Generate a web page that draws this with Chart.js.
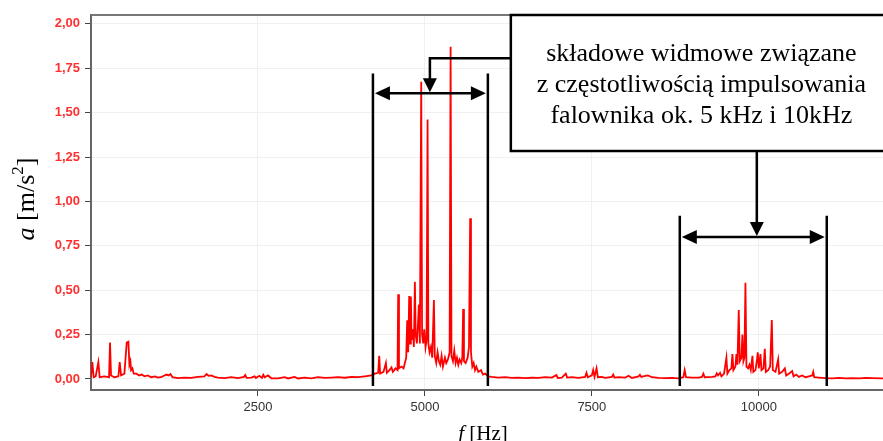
<!DOCTYPE html>
<html>
<head>
<meta charset="utf-8">
<script src="https://cdn.jsdelivr.net/npm/chart.js@4.4.0/dist/chart.umd.min.js"></script>
<style>
  html, body { margin: 0; padding: 0; background: #fff; }
  #wrap { width: 883px; height: 441px; }
</style>
</head>
<body>
<div id="wrap"><canvas id="spectrum" width="883" height="441"></canvas></div>
<script>
// spectrum, split in bands (Hz / m/s^2)
const lowFreq = [0,20,40,70,110,130,200,270,285,300,350,410,430,450,500,535,560,575,590,600,620,640,680,720,760,800,850,900,960,1000,1060,1100,1130,1160,1190,1220,1300,1400,1500,1600,1700,1730,1760,1800,1850,1900,2000,2100,2200,2290,2310,2330,2400,2450,2470,2520,2560,2580,2600,2650,2700,2800,2900,2950,3050,3100,3200,3300,3400,3500,3600,3700,3800,3900,4000,4100,4200];
const lowAcc  = [0.01,0.095,0.01,0.015,0.095,0.01,0.015,0.01,0.205,0.02,0.01,0.015,0.095,0.02,0.03,0.205,0.21,0.08,0.1,0.05,0.06,0.03,0.03,0.02,0.025,0.015,0.02,0.01,0.015,0.008,0.012,0.02,0.025,0.02,0.028,0.01,0.005,0.008,0.006,0.012,0.015,0.028,0.018,0.02,0.012,0.008,0.005,0.01,0.005,0.012,0.022,0.006,0.008,0.015,0.005,0.018,0.006,0.024,0.01,0.02,0.004,0.003,0.01,0.003,0.012,0.003,0.008,0.004,0.01,0.006,0.008,0.01,0.007,0.012,0.01,0.015,0.02];

const band5Freq = [4250,4300,4316,4330,4380,4416,4430,4470,4500,4520,4560,4590,4600,4612,4650,4680,4700,4720,4735,4750,4765,4778,4790,4800,4820,4835,4850,4862,4880,4895,4910,4925,4945,4958,4975,4990,5010,5025,5040,5052,5070,5090,5110,5135,5148,5170,5190,5210,5230,5250,5270,5300,5320,5345,5370,5385,5398,5420,5440,5460,5480,5500,5520,5545,5560,5573,5585,5610,5640,5660,5678,5690,5710,5730,5750,5770,5800,5840,5870,5900,5950];
const band5Acc  = [0.03,0.035,0.13,0.03,0.04,0.09,0.035,0.05,0.065,0.04,0.06,0.05,0.477,0.06,0.07,0.06,0.09,0.12,0.33,0.15,0.467,0.2,0.465,0.22,0.28,0.18,0.548,0.25,0.2,0.3,0.42,0.2,1.674,0.25,0.2,0.28,0.18,0.22,1.462,0.2,0.15,0.18,0.12,0.445,0.13,0.09,0.15,0.1,0.08,0.13,0.07,0.12,0.09,0.11,0.15,1.871,0.13,0.1,0.16,0.09,0.12,0.08,0.11,0.09,0.12,0.394,0.1,0.09,0.12,0.18,0.905,0.15,0.07,0.09,0.05,0.07,0.04,0.05,0.025,0.03,0.015];

const midFreq = [6000,6100,6200,6300,6400,6500,6600,6700,6800,6900,6970,6990,7050,7110,7130,7200,7300,7400,7420,7440,7500,7520,7540,7570,7590,7650,7700,7800,7820,7840,7900,8000,8050,8100,8200,8220,8240,8300,8340,8400,8500,8600,8700,8800];
const midAcc  = [0.012,0.008,0.01,0.006,0.008,0.005,0.007,0.006,0.01,0.008,0.022,0.006,0.008,0.03,0.008,0.01,0.006,0.012,0.035,0.01,0.02,0.05,0.012,0.06,0.01,0.012,0.006,0.012,0.025,0.008,0.01,0.008,0.018,0.006,0.015,0.024,0.012,0.018,0.02,0.01,0.006,0.005,0.006,0.004];

const band10Freq = [8870,8890,8910,9000,9100,9150,9170,9190,9300,9350,9370,9390,9420,9440,9480,9515,9530,9560,9590,9605,9620,9650,9665,9680,9700,9715,9740,9755,9770,9785,9800,9815,9840,9860,9880,9905,9918,9950,9970,9985,10000,10025,10040,10070,10090,10105,10140,10170,10195,10210,10250,10290,10305,10350,10390,10410,10450,10500,10520,10560,10600,10650,10700,10750,10800,10815,10830,10900,11000,11100,11200,11300,11400,11500,11600,11700,11860];
const band10Acc  = [0.01,0.05,0.01,0.008,0.008,0.012,0.03,0.01,0.012,0.015,0.032,0.02,0.035,0.015,0.03,0.12,0.03,0.05,0.06,0.14,0.05,0.07,0.14,0.08,0.389,0.1,0.12,0.25,0.1,0.12,0.542,0.07,0.06,0.08,0.05,0.13,0.04,0.05,0.1,0.15,0.06,0.14,0.05,0.06,0.17,0.04,0.05,0.07,0.332,0.05,0.04,0.11,0.03,0.04,0.06,0.02,0.03,0.045,0.015,0.025,0.012,0.02,0.01,0.015,0.02,0.04,0.01,0.008,0.005,0.004,0.006,0.004,0.005,0.004,0.006,0.005,0.004];

const xTicks = [2500, 5000, 7500, 10000];
const xTickLabels = ['2500', '5000', '7500', '10000'];
const yTicks = [0, 0.25, 0.5, 0.75, 1, 1.25, 1.5, 1.75, 2];
const yTickLabels = ['0,00','0,25','0,50','0,75','1,00','1,25','1,50','1,75','2,00'];

const noteLines = ['składowe widmowe związane', 'z częstotliwością impulsowania', 'falownika ok. 5 kHz i 10kHz'];

const freqHz = [...lowFreq, ...band5Freq, ...midFreq, ...band10Freq];
const accel = [...lowAcc, ...band5Acc, ...midAcc, ...band10Acc];
const points = freqHz.map((f,i)=>({x:f, y:accel[i]}));

const arrowHead=(ctx,tx,ty,dx,dy,len,hw)=>{
    ctx.beginPath();
    ctx.moveTo(tx,ty);
    ctx.lineTo(tx-dx*len-dy*hw, ty-dy*len+dx*hw);
    ctx.lineTo(tx-dx*len+dy*hw, ty-dy*len-dx*hw);
    ctx.closePath();
    ctx.fill();
}

const band=(ctx,x,y,b)=>{
    const l=x.getPixelForValue(b.from), r=x.getPixelForValue(b.to);
    const ay=y.getPixelForValue(b.arrowY);
    ctx.beginPath();
    ctx.moveTo(l,y.getPixelForValue(b.top)); ctx.lineTo(l,y.getPixelForValue(b.bottom));
    ctx.moveTo(r,y.getPixelForValue(b.top)); ctx.lineTo(r,y.getPixelForValue(b.bottom));
    ctx.moveTo(l+10,ay); ctx.lineTo(r-10,ay);
    ctx.stroke();
    arrowHead(ctx,l+2,ay,-1,0,15,7);
    arrowHead(ctx,r-2,ay,1,0,15,7);
}

const overlay = {
    id: 'overlay',
    afterDraw(chart){
        const {ctx, chartArea:a, scales:{x,y}} = chart;
        ctx.save();
        // top frame line
        ctx.strokeStyle='#777'; ctx.lineWidth=2;
        ctx.beginPath(); ctx.moveTo(a.left,a.top); ctx.lineTo(a.right,a.top); ctx.stroke();

        ctx.strokeStyle='#000'; ctx.fillStyle='#000'; ctx.lineWidth=2.5;
        band(ctx,x,y,{from:4222,to:5943,arrowY:1.61,top:1.72,bottom:-0.04});
        band(ctx,x,y,{from:8817,to:11018,arrowY:0.80,top:0.92,bottom:-0.04});

        // note box
        const bl=x.getPixelForValue(6287), bb=y.getPixelForValue(1.284);
        ctx.fillStyle='#fff';
        ctx.fillRect(bl,a.top,a.right-bl+5,bb-a.top);
        ctx.strokeRect(bl,a.top,a.right-bl+5,bb-a.top);

        // connectors
        ctx.fillStyle='#000';
        const c1x=x.getPixelForValue(5075), c1y=y.getPixelForValue(1.807);
        const ay1=y.getPixelForValue(1.61);
        ctx.beginPath(); ctx.moveTo(bl,c1y); ctx.lineTo(c1x,c1y); ctx.lineTo(c1x,ay1-10); ctx.stroke();
        arrowHead(ctx,c1x,ay1-1,0,1,14,7);
        const c2x=x.getPixelForValue(9970), ay2=y.getPixelForValue(0.80);
        ctx.beginPath(); ctx.moveTo(c2x,bb); ctx.lineTo(c2x,ay2-10); ctx.stroke();
        arrowHead(ctx,c2x,ay2-1,0,1,14,7);

        // note text
        ctx.font='26px "Liberation Serif"';
        ctx.textAlign='center'; ctx.textBaseline='alphabetic';
        const tx=x.getPixelForValue(9140);
        noteLines.forEach((t,i)=>ctx.fillText(t,tx,61+i*31));

        // axis titles
        ctx.fillStyle='#000';
        ctx.textAlign='left';
        const parts=[['italic 26px "Liberation Serif"','a',0],['26px "Liberation Serif"',' [m/s',0],['17px "Liberation Serif"','2',-11],['26px "Liberation Serif"',']',0]];
        let w=0;
        parts.forEach(p=>{ctx.font=p[0]; w+=ctx.measureText(p[1]).width;});
        ctx.translate(34,199);
        ctx.rotate(-Math.PI/2);
        let px=-w/2;
        parts.forEach(p=>{ctx.font=p[0]; ctx.fillText(p[1],px,p[2]); px+=ctx.measureText(p[1]).width;});
        ctx.setTransform(1,0,0,1,0,0);

        const xparts=[['italic 21px "Liberation Serif"','f'],['21px "Liberation Serif"',' [Hz]']];
        w=0;
        xparts.forEach(p=>{ctx.font=p[0]; w+=ctx.measureText(p[1]).width;});
        px=483-w/2;
        xparts.forEach(p=>{ctx.font=p[0]; ctx.fillText(p[1],px,440); px+=ctx.measureText(p[1]).width;});
        ctx.restore();
    }
};

new Chart(document.getElementById('spectrum').getContext('2d'), {
    type: 'line',
    data: {
        datasets: [{
            data: points,
            borderColor: '#ff0000',
            borderWidth: 1.8,
            pointRadius: 0,
            tension: 0,
            fill: false,
        }]
    },
    options: {
        responsive: false,
        animation: false,
        layout: { padding: { top: 15, left: 0, right: 0, bottom: 0 } },
        plugins: { legend: { display: false }, tooltip: { enabled: false } },
        scales: {
            x: {
                type: 'linear',
                min: 0,
                max: 11860,
                afterBuildTicks: s => { s.ticks = xTicks.map(v=>({value:v})); },
                afterFit: s => { s.height = 51; },
                ticks: {
                    color: '#333',
                    font: { family: 'Liberation Sans', size: 13 },
                    padding: 4,
                    maxRotation: 0,
                    callback: v => xTickLabels[xTicks.indexOf(v)] ?? '',
                },
                grid: { color: '#f0f0f0', tickColor: '#444', tickLength: 6 },
                border: { color: '#666', width: 2 },
            },
            y: {
                min: -0.062,
                max: 2.05,
                afterBuildTicks: s => { s.ticks = yTicks.map(v=>({value:v})); },
                afterFit: s => { s.width = 91; },
                ticks: {
                    color: '#ff3030',
                    font: { family: 'Liberation Sans', size: 13, weight: 'bold' },
                    padding: 5,
                    callback: v => yTickLabels[yTicks.indexOf(v)] ?? '',
                },
                grid: { color: '#f0f0f0', tickColor: '#444', tickLength: 6 },
                border: { color: '#666', width: 2 },
            }
        }
    },
    plugins: [overlay]
});
</script>
</body>
</html>
